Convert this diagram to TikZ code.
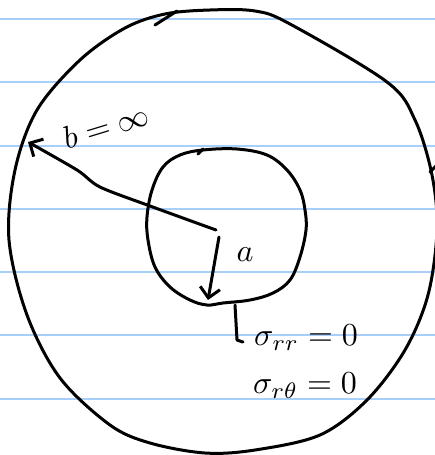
\documentclass[tikz,border=0pt]{standalone}
\usetikzlibrary{arrows.meta}
\definecolor{rulecol}{RGB}{168,206,250}
\tikzset{
  pen/.style={line width=3pt, line cap=round, line join=round},
  arr/.style={pen, -{Straight Barb[length=10pt,width=20pt,line width=3pt]}},
  lbl/.style={scale=3.2, transform shape, inner sep=0pt}
}
\begin{document}
\begin{tikzpicture}[x=1pt, y=-1pt]
            \fill[white] (0,0) rectangle (435,455);
            \useasboundingbox (0,0) rectangle (435,455);
            % ruled paper
            \foreach \y in {19,82,146,209,272,335,399}
              \draw[rulecol, line width=1.8pt] (0,\y) -- (435,\y);
            % outer boundary r = b
            \draw[pen] plot[smooth cycle, tension=0.55] coordinates {
              (165,14) (210,10) (255,11) (290,24) (387,82) (415,120) (432,175)
              (437,230) (428,295) (405,350) (367,400) (320,435) (255,450)
              (205,453) (150,443) (110,425) (60,378) (27,315) (9,240)
              (15,170) (37,110) (80,60) (125,28)};
            \draw[pen] (155,25) -- (177,11);
            \draw[pen] (430,172) -- (436,166);
            % inner hole r = a
            \draw[pen] plot[smooth cycle, tension=0.6] coordinates {
              (203,150) (237,149) (267,155) (287,170) (300,190) (305,210)
              (306,230) (300,257) (290,280) (273,293) (250,300) (223,303)
              (207,305) (190,300) (170,287) (155,267) (148,240) (147,217)
              (152,190) (163,167) (180,155)};
            \draw[pen] (198,154) -- (203,149);
            % radii
            \coordinate (O) at (216,230);
            \coordinate (Ob) at (219,237);
            \coordinate (B) at (28,142);
            \coordinate (A) at (208,300);
            \draw[arr] plot[smooth] coordinates {(O) (150,206) (100,187) (77,170) (B)};
            \draw[arr] (Ob) -- (A);
            \node[lbl, rotate=17] (bval) at (106,126) {$b=\infty$};
            \node[lbl] (alab) at (245,255) {$a$};
            % boundary conditions on r = a
            \coordinate (L) at (235,305);
            \coordinate (Lk) at (237,340);
            \draw[pen] (L) -- (Lk) -- ++(6,2);
            \node[lbl] (srr) at (306,338) {$\sigma_{rr}=0$};
            \node[lbl] (srt) at (305,386) {$\sigma_{r\theta}=0$};
\end{tikzpicture}
\end{document}
